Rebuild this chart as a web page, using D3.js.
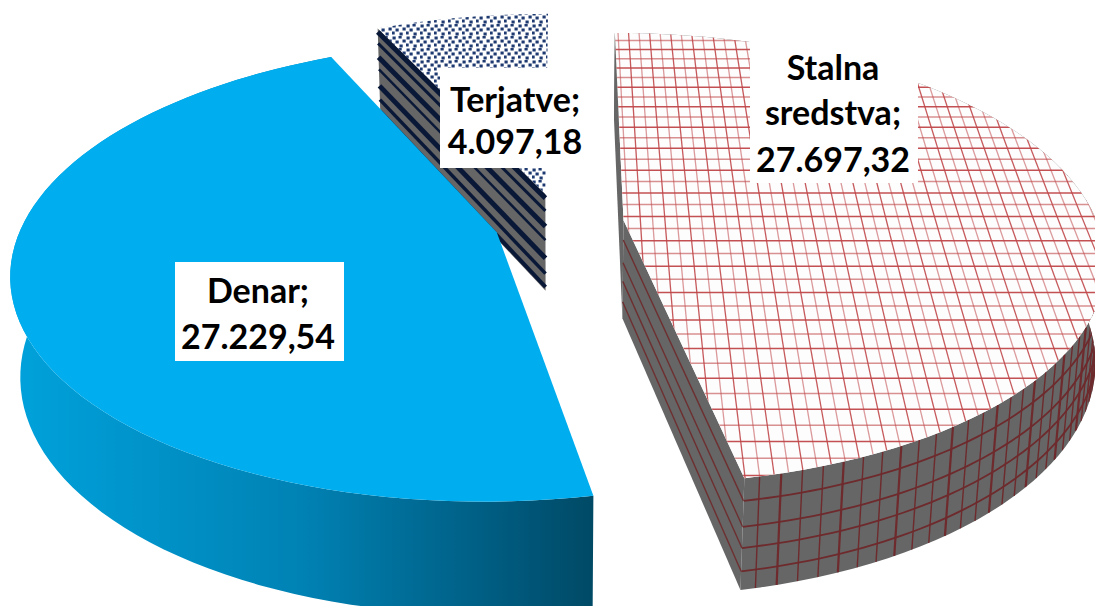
<!DOCTYPE html>
<html>
<head>
<meta charset="utf-8">
<script src="https://cdn.jsdelivr.net/npm/d3@7"></script>
<style>
  html, body { margin: 0; padding: 0; background: #fff; overflow: hidden; }
  svg { display: block; }
  text { font-family: Lato, "Open Sans", sans-serif; font-weight: 700; font-size: 34px; fill: #000; text-anchor: middle; }
</style>
</head>
<body>
<div id="chart"></div>
<script>
// data
var categories = ["Stalna sredstva", "Denar", "Terjatve"];
var values = [27697.32, 27229.54, 4097.18];

var width = 1095;
var height = 606;

// pie geometry (disc radius = 1, y towards the back, z downwards)
var cx = 559, cy = 223;
var rx = 474, ry = 220, thick = 100;
var depthY = 0.17, depthZ = 0.018;
var explode = 0.137;
var startRot = 0.1 * Math.PI / 180;

// white boxes behind the labels, and text lines
var labelBoxes = [
  { x: 750, y: 40, w: 168, h: 143, tx: 833, ty: [80, 125, 172], lines: ["Stalna", "sredstva;"] },
  { x: 175, y: 262, w: 169, h: 99, tx: 258, ty: [303, 349], lines: ["Denar;"] },
  { x: 440, y: 68, w: 145, h: 100, tx: 515, ty: [112, 154], lines: ["Terjatve;"] }
];

var fmt = d3.formatLocale({ decimal: ",", thousands: ".", grouping: [3], currency: ["", ""] }).format(",.2f");

var pie = d3.pie().sort(null).startAngle(startRot).endAngle(startRot + 2 * Math.PI);
var slices = pie(values);

var line = d3.line();

function project(X, Y, Z) {
  var d = 1 + depthY * Y + depthZ * Z;
  return [cx + rx * X / d, cy - ry * Y / d + thick * Z / d];
}

// point on a slice, exploded along its mid angle
function point(s, angle, r, z) {
  var mid = (s.startAngle + s.endAngle) / 2;
  return project(
    explode * Math.sin(mid) + r * Math.sin(angle),
    explode * Math.cos(mid) + r * Math.cos(angle),
    z);
}

function arcPts(s, a0, a1, z) {
  var n = 80;
  return d3.range(n + 1).map(function(i) {
    return point(s, a0 + (a1 - a0) * i / n, 1, z);
  });
}

function topPath(s) {
  return line([point(s, 0, 0, 0)].concat(arcPts(s, s.startAngle, s.endAngle, 0))) + "Z";
}
function rimPath(s, a0, a1) {
  return line(arcPts(s, a0, a1, 0).concat(arcPts(s, a1, a0, 1))) + "Z";
}
function sidePath(s, a) {
  return line([point(s, a, 0, 0), point(s, a, 1, 0), point(s, a, 1, 1), point(s, a, 0, 1)]) + "Z";
}
function rad(deg) { return deg * Math.PI / 180; }

var svg = d3.select("#chart").append("svg")
  .attr("width", width)
  .attr("height", height);

var defs = svg.append("defs");

var grad = defs.append("linearGradient")
  .attr("id", "denarWall")
  .attr("gradientUnits", "userSpaceOnUse")
  .attr("x1", 10).attr("x2", 592).attr("y1", 0).attr("y2", 0);
grad.append("stop").attr("offset", "0").attr("stop-color", "#00a2dc");
grad.append("stop").attr("offset", "0.5").attr("stop-color", "#0082b4");
grad.append("stop").attr("offset", "0.85").attr("stop-color", "#005a7e");
grad.append("stop").attr("offset", "1").attr("stop-color", "#004a66");

// small dots of the Terjatve top
var dots = defs.append("pattern")
  .attr("id", "dots")
  .attr("patternUnits", "userSpaceOnUse")
  .attr("width", 14).attr("height", 12);
dots.append("rect").attr("width", 14).attr("height", 12).attr("fill", "#fff");
[[2, 2], [8, 1], [5, 6], [12, 5], [1, 9], [9, 10]].forEach(function(d) {
  dots.append("rect")
    .attr("x", d[0] - 1.5).attr("y", d[1] - 1.5)
    .attr("width", 3.2).attr("height", 3)
    .attr("fill", "#1f3a70");
});

var stalna = slices[0], denar = slices[1], terjatve = slices[2];

// Terjatve (back)
var gT = svg.append("g");
gT.append("path").attr("d", topPath(terjatve)).attr("fill", "url(#dots)");
gT.append("path").attr("d", sidePath(terjatve, terjatve.startAngle)).attr("fill", "#666");
[[0.04, 5], [0.17, 3], [0.33, 5], [0.47, 2.5], [0.66, 5], [0.82, 3.5], [0.96, 4]].forEach(function(st) {
  gT.append("path")
    .attr("d", line([point(terjatve, terjatve.startAngle, 0, st[0]), point(terjatve, terjatve.startAngle, 1, st[0])]))
    .attr("fill", "none")
    .attr("stroke", "#0a1838")
    .attr("stroke-width", st[1]);
});

// Stalna sredstva
var wallRings = [0.2, 0.43, 0.62, 0.83];
var gS = svg.append("g");
defs.append("clipPath").attr("id", "clipTop").append("path").attr("d", topPath(stalna));
defs.append("clipPath").attr("id", "clipRim").append("path").attr("d", rimPath(stalna, stalna.startAngle, stalna.endAngle));

gS.append("path").attr("d", sidePath(stalna, stalna.startAngle)).attr("fill", "#666");
gS.append("path").attr("d", sidePath(stalna, stalna.endAngle)).attr("fill", "#666");
wallRings.forEach(function(z) {
  gS.append("path")
    .attr("d", line([point(stalna, stalna.endAngle, 0, z), point(stalna, stalna.endAngle, 1, z)]))
    .attr("fill", "none").attr("stroke", "#6e2f30").attr("stroke-width", 1.4);
});
gS.append("path").attr("d", rimPath(stalna, stalna.startAngle, stalna.endAngle)).attr("fill", "#666");

var rimLines = gS.append("g").attr("clip-path", "url(#clipRim)")
  .attr("fill", "none").attr("stroke", "#6e2a2c");
wallRings.forEach(function(z) {
  rimLines.append("path")
    .attr("d", line(arcPts(stalna, rad(70), stalna.endAngle, z)))
    .attr("stroke-width", 1.8);
});
d3.range(70, 169, 2.3).forEach(function(deg, i) {
  rimLines.append("path")
    .attr("d", line([point(stalna, stalna.endAngle - rad(i * 2.3 + 1.6), 1, 0), point(stalna, stalna.endAngle - rad(i * 2.3 + 1.6), 1, 1)]))
    .attr("stroke-width", i % 3 == 1 ? 2.2 : 1.4);
});

gS.append("path").attr("d", topPath(stalna)).attr("fill", "#fdfdfd");
var grid = gS.append("g").attr("clip-path", "url(#clipTop)")
  .attr("fill", "none").attr("stroke", "#c0474a");
// grid lies on the disc, so the perspective bends it with the slice
d3.range(-0.4, 1.8, 0.026).forEach(function(x, i) {
  grid.append("path")
    .attr("d", line([project(x, -1.4, 0), project(x, 1.4, 0)]))
    .attr("stroke-width", 1.3)
    .attr("stroke-opacity", i % 2 ? 0.55 : 0.9);
});
d3.range(-1.4, 1.4, 0.055).forEach(function(y, i) {
  grid.append("path")
    .attr("d", line([project(-0.4, y, 0), project(1.8, y, 0)]))
    .attr("stroke-width", 1.5)
    .attr("stroke-opacity", i % 2 ? 0.6 : 0.95);
});

// Denar (front)
var gD = svg.append("g");
gD.append("path").attr("d", rimPath(denar, denar.startAngle, denar.endAngle)).attr("fill", "url(#denarWall)");
gD.append("path").attr("d", topPath(denar)).attr("fill", "#00aeef");

// labels
labelBoxes.forEach(function(b, i) {
  var g = svg.append("g");
  g.append("rect").attr("x", b.x).attr("y", b.y).attr("width", b.w).attr("height", b.h).attr("fill", "#fff");
  b.lines.concat([fmt(values[i])]).forEach(function(t, j) {
    g.append("text").attr("x", b.tx).attr("y", b.ty[j]).text(t);
  });
});
</script>
</body>
</html>
